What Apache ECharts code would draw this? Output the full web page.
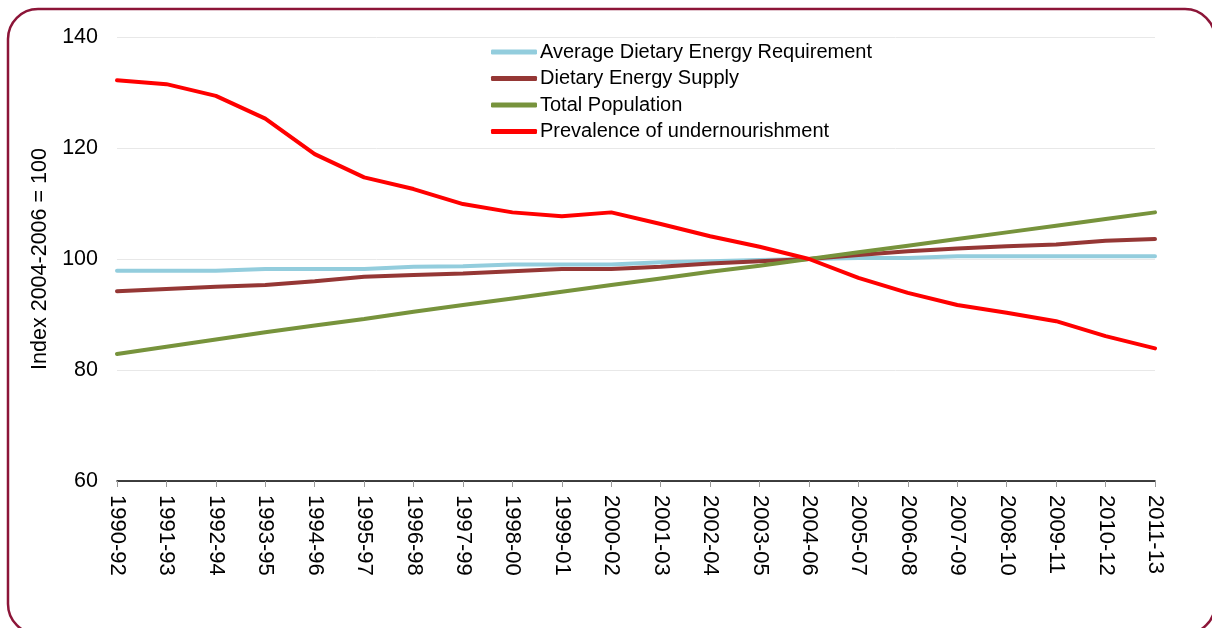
<!DOCTYPE html>
<html>
<head>
<meta charset="utf-8">
<script src="https://cdn.jsdelivr.net/npm/echarts@6/dist/echarts.min.js"></script>
<style>
  html, body { margin: 0; padding: 0; background: #fff; }
  #chart { width: 1212px; height: 628px; }
</style>
</head>
<body>
<div id="chart"></div>
<script>
var periods = ['1990-92', '1991-93', '1992-94', '1993-95', '1994-96', '1995-97', '1996-98', '1997-99',
  '1998-00', '1999-01', '2000-02', '2001-03', '2002-04', '2003-05', '2004-06', '2005-07',
  '2006-08', '2007-09', '2008-10', '2009-11', '2010-12', '2011-13'];

var yTicks = [60, 80, 100, 120, 140];

var ader = [97.9, 97.9, 97.9, 98.2, 98.2, 98.2, 98.6, 98.7, 99.0, 99.0, 99.0, 99.4, 99.6, 99.8,
  100, 100.2, 100.2, 100.5, 100.5, 100.5, 100.5, 100.5];
var des = [94.2, 94.6, 95.0, 95.3, 96.0, 96.8, 97.1, 97.4, 97.8, 98.2, 98.2, 98.6, 99.2, 99.6,
  100, 100.7, 101.4, 101.9, 102.3, 102.6, 103.3, 103.6];
var population = [82.9, 84.2, 85.5, 86.8, 88.0, 89.2, 90.5, 91.7, 92.9, 94.1, 95.3, 96.5, 97.7, 98.8,
  100, 101.2, 102.4, 103.6, 104.8, 106.0, 107.2, 108.4];
var undernourishment = [132.2, 131.5, 129.4, 125.3, 118.9, 114.7, 112.6, 109.9, 108.4, 107.7, 108.4,
  106.3, 104.1, 102.2, 100, 96.6, 93.9, 91.7, 90.3, 88.8, 86.1, 83.9];

var names = ['Average Dietary Energy Requirement', 'Dietary Energy Supply', 'Total Population',
  'Prevalence of undernourishment'];
var colors = ['#93CDDD', '#953735', '#77933C', '#FF0000'];
var values = [ader, des, population, undernourishment];

var font = '"Liberation Sans", Arial, sans-serif';
var chart = echarts.init(document.getElementById('chart'));

var series = names.map(function (n, i) {
  return {
    name: n,
    type: 'line',
    data: values[i],
    symbol: 'none',
    lineStyle: { width: 4, color: colors[i], cap: 'round' },
    itemStyle: { color: colors[i] },
    emphasis: { disabled: true }
  };
});

var option = {
  animation: false,
  textStyle: { fontFamily: font },
  grid: { left: 117, right: 57, top: 37, bottom: 147 },
  graphic: [{
    type: 'rect',
    shape: { x: 8, y: 9, width: 1207, height: 625, r: 30 },
    style: { fill: 'none', stroke: '#8C1538', lineWidth: 2.5 },
    z: 100
  }],
  legend: {
    data: names,
    orient: 'vertical',
    left: 486,
    top: 37,
    icon: 'roundRect',
    itemWidth: 46,
    itemHeight: 5,
    itemGap: 6.5,
    textStyle: { fontSize: 20, color: '#000', fontFamily: font, padding: [0, 0, 0, -2] }
  },
  xAxis: {
    type: 'category',
    data: periods,
    boundaryGap: false,
    axisLine: { lineStyle: { color: '#000', width: 1.5 } },
    axisTick: { show: true, length: 6, lineStyle: { color: '#999' } },
    axisLabel: { rotate: -90, fontSize: 22, color: '#000', margin: 14, interval: 0, fontFamily: font },
    splitLine: { show: false }
  },
  yAxis: {
    type: 'value',
    min: yTicks[0],
    max: yTicks[yTicks.length - 1],
    interval: 20,
    name: 'Index 2004-2006 = 100',
    nameLocation: 'middle',
    nameGap: 63,
    nameTextStyle: { fontSize: 21.5, color: '#000', fontFamily: font },
    axisLine: { show: false },
    axisTick: { show: false },
    axisLabel: { fontSize: 21.5, color: '#000', margin: 19, fontFamily: font },
    splitLine: { lineStyle: { color: '#e8e8e8', width: 1 } }
  },
  series: series
};
chart.setOption(option);
</script>
</body>
</html>
